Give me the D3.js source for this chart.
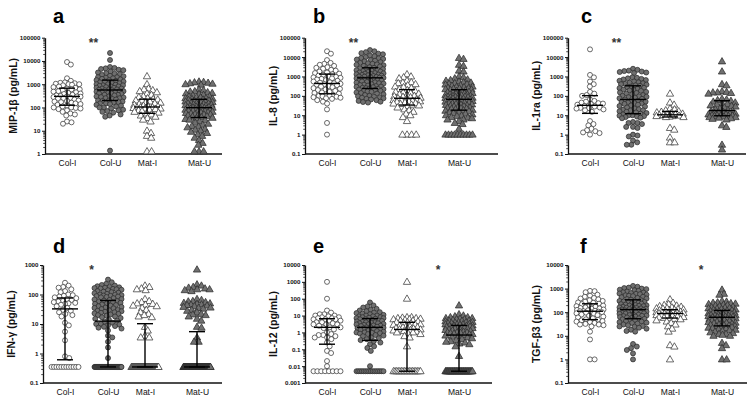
<!DOCTYPE html>
<html><head><meta charset="utf-8">
<script src="https://cdn.jsdelivr.net/npm/d3@7"></script>
<style>body{margin:0;background:#fff}svg{display:block}</style>
</head><body><svg id="c" width="754" height="400"></svg>
<script>
const categories = ["Col-I", "Col-U", "Mat-I", "Mat-U"];

// tick labels (decades) per panel
const ticksA = [1, 10, 100, 1000, 10000, 100000];
const ticksB = [0.1, 1, 10, 100, 1000, 10000, 100000];
const ticksC = [0.1, 1, 10, 100, 1000, 10000, 100000];
const ticksD = [0.1, 1, 10, 100, 1000];
const ticksE = [0.001, 0.01, 0.1, 1, 10, 100, 1000, 10000];
const ticksF = [0.1, 1, 10, 100, 1000, 10000];

// a: MIP-1β
const mipColI = [9000, 7000, 1800, 1400, 1200, 1150, 1100, 1050, 1000, 1000, 950, 900, 800, 750, 700, 650, 600, 600, 550, 500, 480, 450, 420, 400, 380, 350, 330, 310, 300, 300, 290, 280, 260, 250, 240, 220, 200, 190, 180, 170, 160, 150, 140, 130, 120, 110, 100, 100, 95, 90, 85, 75, 65, 55, 50, 45, 25, 23, 20];
const mipColU = [22000, 11000, 5500, 5000, 4800, 4500, 4200, 4000, 3500, 3200, 3000, 2800, 2700, 2500, 2300, 2200, 2000, 2000, 1900, 1800, 1700, 1600, 1500, 1500, 1400, 1300, 1300, 1200, 1100, 1100, 1000, 1000, 950, 900, 900, 850, 800, 800, 750, 700, 700, 650, 650, 600, 600, 580, 550, 550, 500, 500, 480, 450, 450, 420, 400, 400, 380, 350, 350, 330, 300, 300, 280, 270, 250, 250, 230, 220, 200, 200, 190, 180, 170, 160, 150, 150, 140, 130, 120, 110, 100, 100, 90, 80, 75, 70, 65, 60, 50, 45, 40, 1.4];
const mipMatI = [2200, 1000, 650, 600, 550, 500, 450, 400, 350, 300, 280, 250, 230, 220, 200, 200, 180, 170, 160, 150, 140, 130, 120, 110, 110, 100, 100, 100, 95, 90, 90, 85, 80, 75, 70, 65, 60, 55, 50, 45, 40, 35, 30, 25, 10, 8, 6, 5, 1.3, 1.3];
const mipMatU = [1300, 1250, 1200, 1150, 1100, 1050, 1000, 950, 600, 550, 500, 480, 450, 420, 400, 380, 350, 330, 300, 300, 280, 270, 250, 250, 240, 230, 220, 210, 200, 200, 190, 180, 175, 170, 160, 155, 150, 150, 145, 140, 135, 130, 125, 120, 120, 115, 110, 110, 105, 100, 100, 98, 95, 92, 90, 88, 85, 82, 80, 78, 75, 72, 70, 68, 65, 62, 60, 58, 55, 52, 50, 50, 48, 45, 42, 40, 38, 36, 35, 32, 30, 28, 25, 22, 20, 18, 16, 15, 14, 12, 11, 10, 9, 8, 7, 6, 5, 4, 3, 2.5, 1.3, 1.3, 1.3];

// b: IL-8
const il8ColI = [20000, 15000, 7000, 5000, 4500, 4000, 3500, 3000, 2800, 2500, 2200, 2000, 1800, 1600, 1500, 1400, 1300, 1200, 1100, 1000, 950, 900, 850, 800, 750, 700, 650, 600, 550, 500, 480, 450, 420, 400, 380, 350, 320, 300, 280, 250, 230, 210, 200, 180, 160, 150, 140, 130, 120, 110, 100, 100, 95, 90, 85, 80, 75, 70, 60, 50, 40, 20, 4, 1];
const il8ColU = [23000, 20000, 18000, 16000, 15000, 14000, 12000, 11000, 10000, 9000, 8500, 8000, 7500, 7000, 6500, 6000, 5500, 5000, 4800, 4500, 4200, 4000, 3800, 3500, 3300, 3000, 2800, 2600, 2500, 2400, 2200, 2100, 2000, 1900, 1800, 1700, 1600, 1500, 1450, 1400, 1350, 1300, 1250, 1200, 1150, 1100, 1050, 1000, 980, 950, 900, 870, 850, 800, 780, 750, 700, 680, 650, 620, 600, 580, 550, 520, 500, 480, 450, 430, 400, 380, 360, 340, 320, 300, 290, 280, 260, 250, 240, 230, 220, 210, 200, 190, 180, 170, 160, 150, 140, 130, 120, 110, 100, 95, 90, 85, 80, 75, 70, 65, 60, 55, 50, 48, 45];
const il8MatI = [1300, 1000, 900, 800, 600, 500, 480, 450, 400, 350, 300, 280, 250, 220, 200, 180, 160, 150, 140, 130, 120, 110, 100, 95, 90, 85, 80, 75, 70, 65, 60, 58, 55, 52, 50, 48, 45, 42, 40, 38, 35, 32, 30, 25, 20, 18, 15, 12, 10, 8, 5, 1, 1, 1, 1];
const il8MatU = [9000, 8000, 4000, 3500, 2000, 1800, 1000, 900, 800, 700, 650, 600, 550, 500, 480, 450, 420, 400, 380, 350, 330, 300, 290, 280, 260, 250, 240, 230, 220, 210, 200, 190, 180, 170, 160, 150, 145, 140, 135, 130, 125, 120, 115, 110, 105, 100, 98, 95, 92, 90, 87, 85, 82, 80, 78, 75, 72, 70, 68, 65, 63, 60, 58, 56, 54, 52, 50, 48, 46, 44, 42, 40, 38, 36, 35, 34, 32, 30, 29, 28, 26, 25, 24, 23, 22, 21, 20, 19, 18, 17, 16, 15, 14, 13, 12, 11, 10, 9.5, 9, 8, 7.5, 7, 6, 6, 5, 4, 3.5, 2, 1, 1, 1, 1, 1, 1, 1, 1, 1, 1];

// c: IL-1ra
const il1raColI = [25000, 1200, 900, 550, 400, 300, 160, 130, 110, 100, 65, 55, 50, 45, 42, 40, 38, 35, 30, 28, 25, 24, 23, 22, 20, 18, 15, 5, 3.5, 3, 2, 1.7, 1.5, 1.3, 1.2, 1.0];
const il1raColU = [2500, 2200, 2000, 1900, 1800, 1700, 1600, 1500, 900, 850, 800, 750, 700, 650, 600, 550, 500, 480, 450, 420, 400, 380, 350, 330, 300, 280, 260, 250, 230, 210, 200, 190, 180, 160, 150, 140, 130, 120, 110, 100, 95, 90, 85, 80, 75, 70, 65, 60, 55, 50, 48, 45, 42, 40, 38, 35, 32, 30, 28, 25, 22, 20, 19, 18, 17, 16, 15, 14, 13, 12, 11, 10, 10, 9.5, 9, 8.5, 8, 7.5, 7, 4.5, 4, 4, 3.5, 2.5, 2.2, 2.5, 1, 0.9, 0.8, 0.5, 0.4, 0.3, 0.3];
const il1raMatI = [130, 45, 35, 22, 20, 18, 16, 15, 14, 13, 12, 11, 11, 10, 10, 9.5, 9, 9, 8.5, 8, 8, 2.2, 1.8, 0.7, 0.4, 0.4];
const il1raMatU = [6000, 1800, 400, 350, 170, 160, 150, 150, 140, 130, 70, 65, 60, 55, 50, 45, 40, 38, 35, 32, 30, 28, 25, 22, 20, 18, 17, 16, 15, 14, 13, 12, 12, 11, 11, 10, 10, 10, 9.5, 9, 9, 8.5, 8, 8, 7.5, 7, 6.5, 6, 3, 2.5, 0.3, 0.17];

// d: IFN-γ
const ifngColI = [250, 200, 180, 170, 150, 130, 120, 100, 95, 90, 85, 80, 75, 70, 65, 60, 58, 55, 52, 50, 48, 45, 40, 35, 30, 28, 25, 22, 20, 18, 11, 9, 5.5, 2.8, 0.8, 0.7,
  0.35, 0.35, 0.35, 0.35, 0.35, 0.35, 0.35, 0.35, 0.35, 0.35, 0.35, 0.35];
const ifngColU = [320, 260, 230, 210, 200, 190, 180, 175, 170, 165, 160, 155, 150, 145, 140, 130, 125, 120, 115, 110, 105, 100, 98, 95, 92, 90, 88, 85, 82, 80, 75, 70, 68, 65, 62, 60, 58, 55, 52, 50, 48, 46, 44, 42, 40, 38, 36, 35, 34, 32, 30, 29, 28, 27, 26, 25, 24, 23, 22, 21, 20, 19, 18, 17, 16, 15, 14, 13, 12, 11, 10, 10, 9.5, 9, 8.5, 8, 7.5, 7, 6, 4, 3.5, 2.5, 1.6, 0.7,
  0.35, 0.35, 0.35, 0.35, 0.35, 0.35, 0.35, 0.35, 0.35, 0.35, 0.35, 0.35, 0.35, 0.35, 0.35, 0.35, 0.35, 0.35, 0.35, 0.35, 0.35, 0.35, 0.35, 0.35, 0.35, 0.35,
  0.35, 0.35, 0.35, 0.35, 0.35, 0.35, 0.35, 0.35, 0.35, 0.35, 0.35, 0.35, 0.35, 0.35, 0.35, 0.35, 0.35, 0.35, 0.35, 0.35, 0.35, 0.35, 0.35, 0.35, 0.35, 0.35];
const ifngMatI = [200, 180, 160, 150, 140, 70, 60, 55, 50, 48, 45, 42, 40, 35, 30, 25, 22, 20, 18, 17, 8, 6, 4, 3.5, 3.5,
  0.35, 0.35, 0.35, 0.35, 0.35, 0.35, 0.35, 0.35, 0.35, 0.35, 0.35, 0.35, 0.35, 0.35, 0.35, 0.35, 0.35, 0.35, 0.35, 0.35,
  0.35, 0.35, 0.35, 0.35, 0.35, 0.35, 0.35, 0.35, 0.35, 0.35, 0.35, 0.35, 0.35, 0.35, 0.35, 0.35, 0.35, 0.35, 0.35, 0.35,
  0.35, 0.35, 0.35, 0.35, 0.35, 0.35, 0.35, 0.35, 0.35, 0.35, 0.35, 0.35, 0.35, 0.35, 0.35];
const ifngMatU = [700, 220, 200, 180, 170, 160, 150, 150, 140, 130, 70, 65, 60, 58, 55, 52, 50, 48, 46, 45, 44, 42, 40, 38, 36, 35, 33, 30, 28, 25, 22, 21, 20, 18, 15, 13, 8, 7.5, 3.5, 2.5, 2.5,
  0.35, 0.35, 0.35, 0.35, 0.35, 0.35, 0.35, 0.35, 0.35, 0.35, 0.35, 0.35, 0.35, 0.35, 0.35, 0.35, 0.35, 0.35, 0.35, 0.35,
  0.35, 0.35, 0.35, 0.35, 0.35, 0.35, 0.35, 0.35, 0.35, 0.35, 0.35, 0.35, 0.35, 0.35, 0.35, 0.35, 0.35, 0.35, 0.35, 0.35,
  0.35, 0.35, 0.35, 0.35, 0.35, 0.35, 0.35, 0.35, 0.35, 0.35, 0.35, 0.35, 0.35, 0.35, 0.35, 0.35, 0.35, 0.35, 0.35, 0.35,
  0.35, 0.35, 0.35, 0.35, 0.35, 0.35, 0.35, 0.35, 0.35, 0.35, 0.35, 0.35, 0.35, 0.35, 0.35, 0.35, 0.35, 0.35, 0.35, 0.35,
  0.35, 0.35, 0.35, 0.35, 0.35, 0.35, 0.35, 0.35, 0.35, 0.35, 0.35, 0.35, 0.35, 0.35, 0.35, 0.35, 0.35, 0.35, 0.35, 0.35,
  0.35, 0.35, 0.35, 0.35, 0.35, 0.35, 0.35, 0.35, 0.35, 0.35];

// e: IL-12
const il12ColI = [1000, 100, 20, 15, 12, 12, 10, 10, 9, 8, 8, 7, 7, 6, 6, 6, 5, 5, 4, 4, 3.5, 3, 3, 3, 2.5, 2, 2, 1.8, 1.5, 1, 0.8, 0.7, 0.7, 0.6, 0.5, 0.5, 0.4, 0.25, 0.15, 0.08, 0.06, 0.02, 0.01,
  0.005, 0.005, 0.005, 0.005, 0.005, 0.005, 0.005, 0.005];
const il12ColU = [60, 40, 35, 30, 25, 22, 20, 18, 16, 15, 14, 13, 12, 11, 10, 10, 9, 9, 8, 8, 7.5, 7, 7, 6.5, 6, 6, 5.5, 5, 5, 4.8, 4.5, 4.2, 4, 4, 3.8, 3.5, 3.5, 3.2, 3, 3, 2.8, 2.6, 2.5, 2.4, 2.2, 2, 2, 1.9, 1.8, 1.7, 1.6, 1.5, 1.4, 1.3, 1.2, 1.1, 1, 1, 0.95, 0.9, 0.85, 0.8, 0.7, 0.65, 0.6, 0.5, 0.45, 0.4, 0.35, 0.3, 0.25, 0.2, 0.15, 0.12, 0.08, 0.01,
  0.005, 0.005, 0.005, 0.005, 0.005, 0.005, 0.005, 0.005, 0.005, 0.005, 0.005, 0.005, 0.005, 0.005, 0.005, 0.005];
const il12MatI = [1000, 100, 8, 8, 7.5, 7, 7, 6.5, 6, 6, 5.5, 5, 5, 4.5, 4, 4, 3.5, 3.5, 3, 3, 2.8, 2.5, 2.5, 2.2, 2, 2, 1.8, 1.7, 1.6, 1.5, 1.5, 1.4, 1.3, 1.2, 1.1, 1, 1, 0.9, 0.8, 0.6, 0.5, 0.15,
  0.005, 0.005, 0.005, 0.005, 0.005, 0.005, 0.005, 0.005, 0.005, 0.005, 0.005, 0.005, 0.005, 0.005, 0.005, 0.005, 0.005, 0.005];
const il12MatU = [40, 12, 10, 9, 8, 8, 7, 7, 6.5, 6, 6, 5.5, 5, 5, 4.8, 4.5, 4.2, 4, 4, 3.8, 3.5, 3.5, 3.2, 3, 3, 3, 2.8, 2.6, 2.5, 2.5, 2.4, 2.2, 2.1, 2, 2, 2, 1.9, 1.8, 1.7, 1.6, 1.5, 1.5, 1.4, 1.3, 1.2, 1.1, 1, 1, 1, 0.95, 0.9, 0.85, 0.8, 0.75, 0.7, 0.65, 0.6, 0.55, 0.5, 0.45, 0.4, 0.35, 0.3, 0.28, 0.25, 0.22, 0.2, 0.15, 0.04,
  0.005, 0.005, 0.005, 0.005, 0.005, 0.005, 0.005, 0.005, 0.005, 0.005, 0.005, 0.005, 0.005, 0.005, 0.005, 0.005, 0.005, 0.005, 0.005, 0.005,
  0.005, 0.005, 0.005, 0.005, 0.005, 0.005, 0.005, 0.005, 0.005, 0.005, 0.005, 0.005, 0.005, 0.005, 0.005, 0.005, 0.005, 0.005, 0.005, 0.005];

// f: TGF-β3
const tgfColI = [800, 780, 700, 550, 500, 450, 400, 380, 350, 320, 300, 280, 260, 250, 230, 220, 200, 190, 180, 170, 160, 150, 145, 140, 130, 125, 120, 115, 110, 110, 105, 100, 100, 95, 90, 85, 80, 75, 70, 65, 60, 55, 50, 48, 45, 42, 40, 38, 35, 32, 30, 30, 28, 25, 15, 7, 1, 1];
const tgfColU = [1300, 1200, 1100, 1050, 1000, 950, 900, 850, 800, 750, 700, 680, 650, 620, 600, 580, 550, 520, 500, 480, 450, 430, 400, 380, 360, 340, 320, 300, 290, 280, 270, 260, 250, 240, 230, 220, 210, 200, 195, 190, 185, 180, 170, 165, 160, 155, 150, 145, 140, 135, 130, 128, 125, 122, 120, 115, 110, 105, 100, 98, 95, 92, 90, 88, 85, 80, 78, 75, 72, 70, 68, 65, 62, 60, 58, 55, 52, 50, 48, 45, 42, 40, 38, 36, 35, 33, 30, 28, 26, 25, 24, 22, 20, 18, 16, 15, 4.5, 3.5, 3, 2.5, 1.8, 1];
const tgfMatI = [350, 250, 220, 200, 190, 180, 170, 160, 150, 145, 140, 135, 130, 125, 120, 115, 110, 105, 100, 100, 98, 95, 92, 90, 90, 88, 85, 82, 80, 78, 75, 72, 70, 68, 65, 62, 60, 58, 55, 52, 50, 45, 40, 35, 30, 25, 20, 15, 4, 3.5, 1];
const tgfMatU = [900, 600, 550, 300, 280, 260, 250, 240, 230, 220, 210, 200, 190, 180, 170, 160, 155, 150, 145, 140, 135, 130, 125, 120, 115, 110, 108, 105, 100, 98, 95, 92, 90, 88, 85, 82, 80, 78, 76, 74, 72, 70, 68, 66, 65, 64, 62, 60, 58, 56, 55, 54, 52, 50, 48, 46, 45, 44, 42, 40, 38, 37, 36, 35, 34, 32, 30, 29, 28, 27, 26, 25, 24, 23, 22, 21, 20, 19, 18, 17, 16, 15, 14, 13, 12, 12, 11, 10, 10, 5, 4, 3, 1, 1];

const panels = [
  {letter: "a", title: "MIP-1β (pg/mL)", stars: "**", starAfter: 0, ticks: ticksA, series: [mipColI, mipColU, mipMatI, mipMatU]},
  {letter: "b", title: "IL-8 (pg/mL)", stars: "**", starAfter: 0, ticks: ticksB, series: [il8ColI, il8ColU, il8MatI, il8MatU]},
  {letter: "c", title: "IL-1ra (pg/mL)", stars: "**", starAfter: 0, ticks: ticksC, series: [il1raColI, il1raColU, il1raMatI, il1raMatU]},
  {letter: "d", title: "IFN-γ (pg/mL)", stars: "*", starAfter: 0, ticks: ticksD, series: [ifngColI, ifngColU, ifngMatI, ifngMatU]},
  {letter: "e", title: "IL-12 (pg/mL)", stars: "*", starAfter: 2, ticks: ticksE, series: [il12ColI, il12ColU, il12MatI, il12MatU]},
  {letter: "f", title: "TGF-β3 (pg/mL)", stars: "*", starAfter: 2, ticks: ticksF, series: [tgfColI, tgfColU, tgfMatI, tgfMatU]}
];

// layout (pixels)
const layout = [
  {x0: 45, x1: 222, yT: 37.7, yB: 154, lx: 53, ly: 23},
  {x0: 305, x1: 498, yT: 37.7, yB: 154, lx: 313, ly: 23},
  {x0: 568, x1: 746, yT: 37.7, yB: 154, lx: 581, ly: 23},
  {x0: 43, x1: 222, yT: 265, yB: 383, lx: 53, ly: 253},
  {x0: 305, x1: 492, yT: 265, yB: 383, lx: 313, ly: 253},
  {x0: 568, x1: 747, yT: 265, yB: 383, lx: 580, ly: 253}
];
const catOffsets = [22, 65, 102, 154];
const FONT = "'Liberation Sans', Arial, Helvetica, sans-serif";
const R = 2.5;
const HW = 13.5;

const svg = d3.select("#c");

function fmt(v) { return v >= 1 ? String(Math.round(v)) : String(+v.toPrecision(1)); }

// dodge layout constrained to a maximum half-width; overlaps only when a row is full
function swarm(vals, y, cx) {
  const d = 2 * R * 0.92;
  const pts = vals.map(v => ({v, y: y(v)}));
  const counts = d3.rollup(vals, g => g.length, v => v);
  const cap = Math.floor(2 * HW / d) + 1;
  const placed = [];
  for (const [v, n] of counts) {
    if (n > cap) {
      const g = pts.filter(p => p.v === v);
      g.forEach((p, i) => { p.x = -HW + 2 * HW * (i / (n - 1)); placed.push(p); });
    }
  }
  const rest = pts.filter(p => p.x === undefined).sort((a, b) => a.y - b.y);
  for (const p of rest) {
    const near = placed.filter(q => Math.abs(q.y - p.y) < d);
    const cands = [0];
    for (const q of near) {
      const dx = Math.sqrt(d * d - (q.y - p.y) ** 2);
      cands.push(q.x + dx, q.x - dx);
    }
    const ok = cands.filter(c => Math.abs(c) <= HW + 1e-6).sort((a, b) => Math.abs(a) - Math.abs(b));
    let best = null;
    for (const c of ok) {
      if (near.every(q => (q.x - c) ** 2 + (q.y - p.y) ** 2 >= d * d - 1e-6)) { best = c; break; }
    }
    if (best === null) {
      let bestScore = -1;
      for (let c = -HW; c <= HW + 1e-6; c += 0.5) {
        const s = d3.min(near, q => (q.x - c) ** 2 + (q.y - p.y) ** 2);
        if (s > bestScore) { bestScore = s; best = c; }
      }
    }
    p.x = best; placed.push(p);
  }
  return pts.map(p => ({v: p.v, x: cx + p.x, y: p.y}));
}

panels.forEach((P, pi) => {
  const L = layout[pi];
  const g = svg.append("g");
  const ticks = P.ticks;
  const y = d3.scaleLog().domain([ticks[0], ticks[ticks.length - 1]]).range([L.yB, L.yT]);
  const x = d3.scaleOrdinal().domain(categories).range(catOffsets.map(o => L.x0 + o));

  // minor ticks
  const minor = [];
  for (let i = 0; i < ticks.length - 1; i++) for (let k = 2; k <= 9; k++) minor.push(ticks[i] * k);
  const minAx = g.append("g").attr("transform", `translate(${L.x0},0)`)
    .call(d3.axisLeft(y).tickValues(minor).tickFormat("").tickSize(1.8).tickSizeOuter(0));
  minAx.select(".domain").remove();
  minAx.selectAll("line").attr("stroke", "#222").attr("stroke-width", 0.8);

  const yAx = g.append("g").attr("transform", `translate(${L.x0},0)`)
    .call(d3.axisLeft(y).tickValues(ticks).tickFormat(fmt).tickSize(3).tickPadding(1.5).tickSizeOuter(0));
  yAx.select(".domain").attr("stroke", "#111").attr("stroke-width", 1.3);
  yAx.selectAll("line").attr("stroke", "#111").attr("stroke-width", 1);
  yAx.selectAll("text").attr("font-family", FONT).attr("font-size", 6.2).attr("font-weight", "bold").attr("fill", "#111");

  // x axis
  g.append("line").attr("x1", L.x0).attr("x2", L.x1).attr("y1", L.yB).attr("y2", L.yB)
    .attr("stroke", "#111").attr("stroke-width", 1.5);
  const xAx = g.append("g").attr("transform", `translate(0,${L.yB})`)
    .call(d3.axisBottom(x).tickSize(0).tickPadding(6));
  xAx.select(".domain").remove();
  xAx.selectAll("text").attr("font-family", FONT).attr("font-size", 8.5).attr("fill", "#111");

  // y title
  g.append("text")
    .attr("transform", `translate(${L.x0 - 32},${(L.yT + L.yB) / 2}) rotate(-90)`)
    .attr("text-anchor", "middle").attr("dominant-baseline", "central")
    .attr("font-family", FONT).attr("font-size", 10.5).attr("font-weight", "bold").attr("fill", "#111")
    .text(P.title);

  // panel letter
  g.append("text").attr("x", L.lx).attr("y", L.ly)
    .attr("font-family", FONT).attr("font-size", 20).attr("font-weight", "bold").attr("fill", "#000")
    .text(P.letter);

  // stars
  const sx = (x(categories[P.starAfter]) + x(categories[P.starAfter + 1])) / 2 + 5;
  g.append("text").attr("x", sx).attr("y", L.yT + 9)
    .attr("text-anchor", "middle")
    .attr("font-family", FONT).attr("font-size", 12).attr("font-weight", "bold").attr("fill", "#333")
    .text(P.stars);

  // points
  P.series.forEach((vals, si) => {
    const cx = x(categories[si]);
    const pts = swarm(vals, y, cx);
    const filled = si % 2 === 1;
    const tri = si >= 2;
    const sym = d3.symbol().type(tri ? d3.symbolTriangle : d3.symbolCircle).size(tri ? 23 : Math.PI * R * R);
    g.append("g").selectAll("path").data(pts).join("path")
      .attr("transform", d => `translate(${d.x},${d.y + (tri ? 0.4 : 0)})`)
      .attr("d", sym)
      .attr("fill", filled ? "#707070" : "#fff")
      .attr("stroke", filled ? "#2e2e2e" : "#3a3a3a")
      .attr("stroke-width", 0.75);

    const sorted = vals.slice().sort(d3.ascending);
    const q1 = d3.quantile(sorted, 0.25), med = d3.quantile(sorted, 0.5), q3 = d3.quantile(sorted, 0.75);
    const lg = g.append("g").attr("stroke", "#000").attr("stroke-width", 1.4);
    lg.append("line").attr("x1", cx).attr("x2", cx).attr("y1", y(q1)).attr("y2", y(q3));
    lg.append("line").attr("x1", cx - 13).attr("x2", cx + 13).attr("y1", y(med)).attr("y2", y(med));
    [q1, q3].forEach(q => lg.append("line").attr("x1", cx - 8).attr("x2", cx + 8).attr("y1", y(q)).attr("y2", y(q)));
  });
});
</script></body></html>
